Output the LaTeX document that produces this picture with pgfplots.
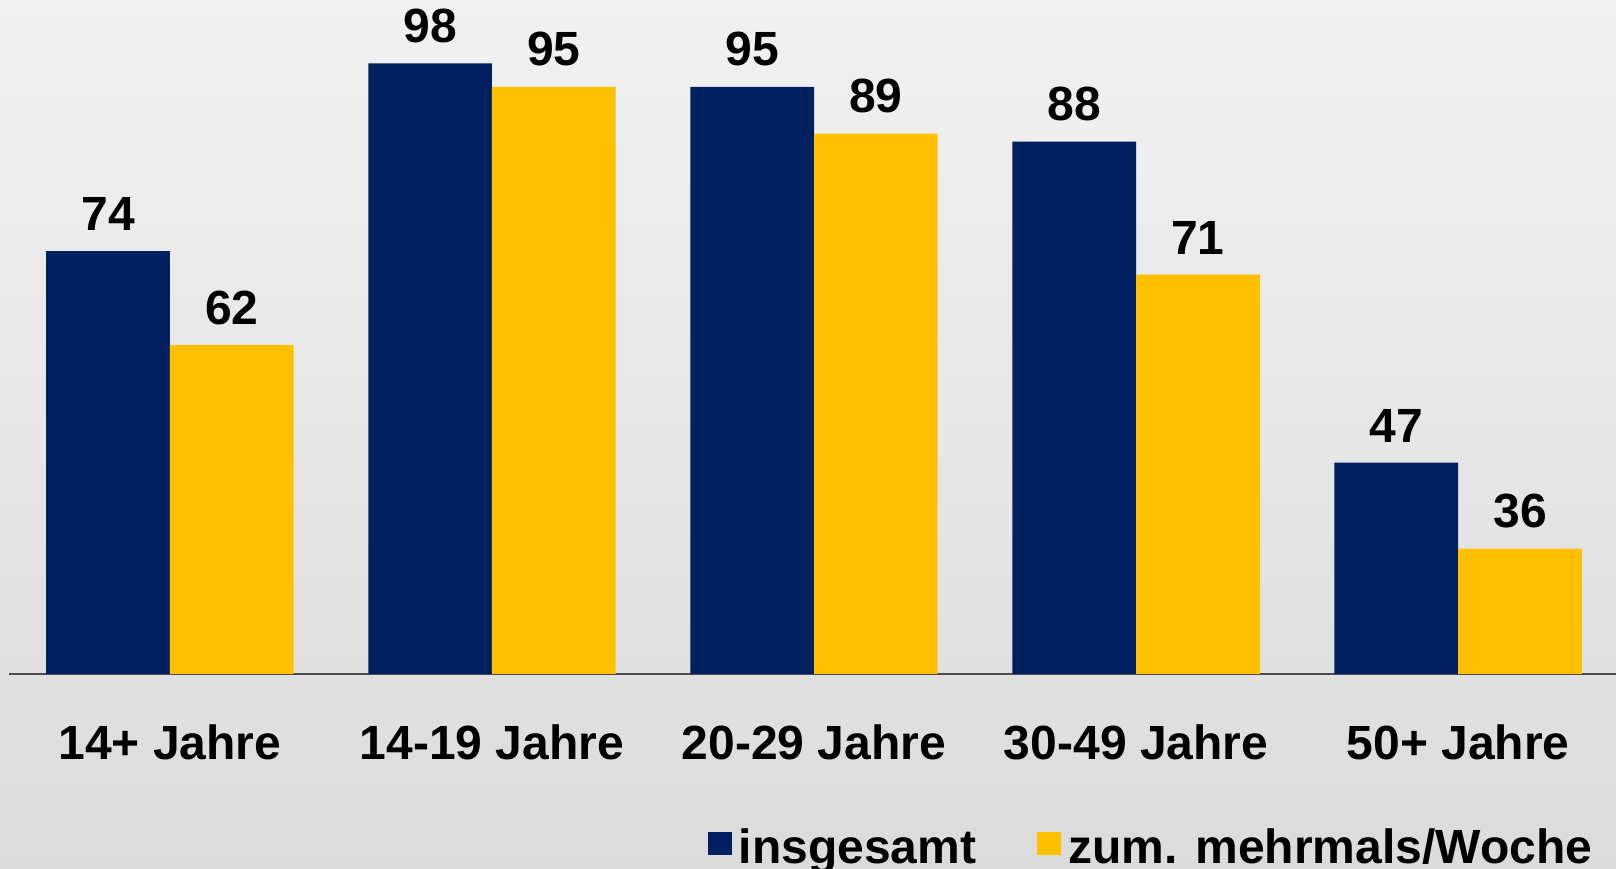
\documentclass[border=0pt]{standalone}
\usepackage{pgfplots}
\pgfplotsset{compat=1.18}
\usepackage{fontspec}
\setmainfont{Liberation Sans}
\definecolor{navy}{HTML}{002060}
\definecolor{gold}{HTML}{FFC000}
\newcommand{\chartfont}{\fontsize{13.66}{16}\selectfont\bfseries}

\begin{document}
\begin{tikzpicture}
\clip (0,0) rectangle (16.16cm,8.69cm);
\shade[top color=gray!11, bottom color=gray!28] (0,0) rectangle (16.16cm,8.69cm);
\begin{axis}[
  at={(0.095cm,1.95cm)},
  scale only axis,
  width=16.065cm, height=6.734cm,
  ybar=0pt, bar width=1.237cm,
  xmin=-0.498, xmax=4.49,
  ymin=20, ymax=106,
  axis y line=none,
  axis x line*=bottom,
  x axis line style={gray!60!black, line width=0.8pt},
  xtick=data,
  xticklabels={14+ Jahre, 14-19 Jahre, 20-29 Jahre, 30-49 Jahre, 50+ Jahre},
  xtick style={draw=none},
  xticklabel style={font=\chartfont, yshift=-2.35mm},
  nodes near coords,
  nodes near coords style={font=\chartfont, text=black, yshift=2.3pt},
  /pgf/number format/assume math mode=true,
  legend columns=2,
  legend style={draw=none, fill=none, font=\chartfont,
    at={(axis description cs:0.985,0)}, anchor=north east,
    xshift=1.86mm, yshift=-14mm,
    /tikz/every even column/.append style={column sep=5.4mm}},
  legend image code/.code={\fill[#1] (-0.04cm,-0.06cm) rectangle (0.20cm,0.17cm);},
]
\addplot[fill=navy, draw=none] coordinates {(0,74) (1,98) (2,95) (3,88) (4,47)};
\addplot[fill=gold, draw=none] coordinates {(0,62) (1,95) (2,89) (3,71) (4,36)};
\legend{insgesamt, zum. mehrmals/Woche}
\end{axis}
\end{tikzpicture}
\end{document}
